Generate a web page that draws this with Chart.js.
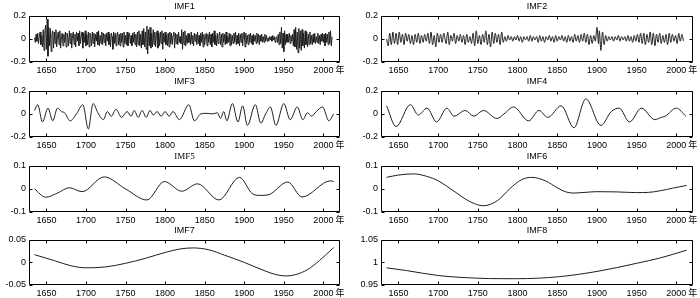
<!DOCTYPE html>
<html><head><meta charset="utf-8">
<script src="https://cdn.jsdelivr.net/npm/chart.js@4/dist/chart.umd.min.js"></script>
<style>
html,body{margin:0;padding:0;background:#fff;}
body{width:700px;height:298px;position:relative;overflow:hidden;}
canvas{position:absolute;}
</style></head>
<body>
<canvas id="c1" width="350" height="75" style="left:0;top:0"></canvas>
<canvas id="c2" width="350" height="75" style="left:350px;top:0"></canvas>
<canvas id="c3" width="350" height="75" style="left:0;top:75px"></canvas>
<canvas id="c4" width="350" height="75" style="left:350px;top:75px"></canvas>
<canvas id="c5" width="350" height="75" style="left:0;top:150px"></canvas>
<canvas id="c6" width="350" height="75" style="left:350px;top:150px"></canvas>
<canvas id="c7" width="350" height="74" style="left:0;top:224px"></canvas>
<canvas id="c8" width="350" height="74" style="left:350px;top:224px"></canvas>
<script>
// ---------- axis data ----------
const X_MIN = 1628, X_MAX = 2021;
const X_TICKS = [1650,1700,1750,1800,1850,1900,1950,2000];
const YEAR_UNIT = '年';
const TITLES = ['IMF1','IMF2','IMF3','IMF4','IMF5','IMF6','IMF7','IMF8'];
const Y_TICKS_02 = [-0.2, 0, 0.2];
const Y_TICKS_01 = [-0.1, 0, 0.1];
const Y_TICKS_005 = [-0.05, 0, 0.05];
const Y_TICKS_IMF8 = [0.95, 1, 1.05];

// ---------- IMF1 (annual values, starting year) ----------
const IMF1_START = 1635;
const imf1 = [
0.01,-0.03,0.04,-0.02,0.05,-0.04,0.02,0.06,-0.05,0.03,
-0.07,0.08,-0.10,0.05,0.12,-0.09,0.17,-0.15,0.10,-0.06,
0.09,-0.11,0.04,0.07,-0.08,0.06,-0.04,0.08,-0.07,0.03,
0.06,-0.05,0.07,-0.08,0.02,0.05,-0.06,0.04,-0.03,0.06,
-0.07,0.05,0.01,-0.06,0.07,-0.04,0.05,-0.08,0.03,0.06,
-0.05,0.04,-0.07,0.06,-0.02,0.05,-0.06,0.07,-0.04,0.02,
0.06,-0.08,0.05,-0.03,0.07,-0.06,0.04,-0.05,0.06,-0.07,
0.05,0.02,-0.06,0.06,-0.04,0.05,-0.07,0.04,-0.02,0.06,
-0.05,0.07,-0.06,0.03,-0.04,0.06,-0.05,0.05,-0.03,0.04,
-0.06,0.05,-0.02,0.06,-0.05,0.04,-0.07,0.05,0.02,-0.09,
0.06,-0.04,0.05,-0.06,0.03,0.06,-0.05,0.04,-0.06,0.05,
-0.03,0.05,-0.07,0.06,-0.04,0.03,-0.05,0.06,-0.06,0.04,
0.05,-0.04,0.03,-0.06,0.05,-0.03,0.06,-0.05,0.04,-0.07,
0.06,-0.05,0.07,-0.06,0.04,-0.08,0.07,-0.05,0.09,-0.07,
0.06,-0.09,0.11,-0.13,0.08,-0.06,0.10,-0.08,0.05,-0.07,
0.08,-0.05,0.06,-0.07,0.04,0.07,-0.08,0.05,-0.06,0.06,
-0.04,0.07,-0.09,0.05,-0.03,0.06,-0.05,0.04,-0.06,0.05,
-0.07,0.06,-0.04,0.05,-0.05,0.03,0.06,-0.08,0.05,-0.04,
0.04,-0.05,0.06,-0.03,0.02,-0.04,0.08,-0.09,0.06,-0.05,
0.07,-0.06,0.03,-0.04,0.05,-0.03,0.04,-0.05,0.06,-0.04,
0.03,-0.06,0.05,-0.02,0.04,-0.05,0.06,-0.04,0.03,-0.06,
0.05,-0.03,0.06,-0.07,0.04,-0.05,0.02,0.05,-0.06,0.04,
-0.03,0.06,-0.05,0.04,-0.07,0.05,-0.03,0.07,-0.05,0.03,
-0.06,0.05,-0.04,0.03,0.06,-0.05,0.04,-0.07,0.05,-0.03,
0.04,-0.05,0.06,-0.04,0.02,-0.03,0.05,-0.06,0.04,-0.05,
0.03,-0.04,0.05,-0.03,0.06,-0.05,0.03,-0.04,0.05,-0.06,
0.04,-0.03,0.05,-0.06,0.04,0.06,-0.07,0.05,-0.04,0.03,
-0.05,0.04,-0.03,0.05,-0.04,0.03,-0.05,0.04,-0.02,0.03,
-0.04,0.05,-0.03,0.04,-0.05,0.03,-0.02,0.04,-0.03,0.02,
-0.03,0.04,-0.02,0.03,-0.02,0.01,-0.02,0.02,-0.01,0.02,
-0.02,0.03,-0.01,0.02,-0.03,0.01,0.02,-0.03,0.04,-0.05,
0.06,-0.04,0.10,-0.08,0.05,-0.11,0.07,-0.05,0.04,-0.03,
0.04,-0.03,0.05,-0.04,0.03,-0.02,0.04,-0.06,0.08,-0.07,
0.10,-0.09,0.06,-0.12,0.09,-0.08,0.07,-0.10,0.08,-0.06,
0.05,-0.08,0.07,-0.05,0.06,-0.07,0.04,-0.05,0.06,-0.04,
0.03,-0.05,0.04,-0.03,0.05,-0.04,0.02,-0.03,0.05,-0.04,
0.03,-0.05,0.04,-0.02,0.05,-0.03,0.04,-0.06,0.05,-0.03,
0.04,-0.05,0.06,-0.04,0.07,-0.06,0.02
];

// ---------- IMF2 (turning points) ----------
const years2 = [1635,1637,1639,1641,1643,1645,1647,1649,1651,1653,1655,1657,1659,1661,1663,1665,1667,1669,1671,1673,1675,1677,1679,1681,1683,1685,1687,1689,1691,1693,1695,1697,1699,1701,1703,1705,1707,1710,1712,1714,1716,1718,1720,1722,1724,1726,1728,1730,1732,1734,1736,1738,1740,1742,1744,1746,1748,1750,1752,1754,1756,1758,1760,1762,1764,1766,1768,1770,1772,1774,1776,1778,1780,1782,1784,1786,1788,1790,1792,1794,1796,1798,1800,1802,1804,1806,1808,1810,1812,1814,1816,1818,1820,1822,1824,1826,1828,1830,1832,1834,1836,1838,1840,1842,1844,1846,1848,1850,1852,1854,1856,1858,1860,1862,1864,1866,1868,1870,1872,1874,1876,1878,1880,1882,1884,1886,1888,1890,1892,1894,1896,1898,1900,1902,1903,1905,1907,1909,1911,1913,1915,1917,1919,1921,1923,1925,1927,1929,1931,1933,1935,1937,1939,1941,1943,1945,1947,1949,1951,1953,1955,1957,1959,1961,1963,1965,1967,1969,1971,1973,1975,1977,1979,1981,1983,1985,1987,1989,1991,1993,1995,1997,1999,2001,2003,2005,2007,2009,2011];
const imf2 = [0.0,-0.06,0.05,-0.05,0.06,-0.04,0.05,-0.05,0.06,-0.03,0.04,-0.05,0.05,-0.02,0.04,-0.04,0.03,-0.05,0.04,-0.03,0.05,-0.04,0.03,-0.03,0.04,-0.02,0.05,-0.04,0.06,-0.05,0.03,-0.07,0.05,-0.03,0.04,-0.03,0.05,-0.04,0.06,-0.05,0.03,-0.02,0.05,-0.04,0.03,-0.02,0.04,-0.03,0.03,-0.05,0.04,-0.03,0.02,-0.04,0.05,-0.06,0.07,-0.04,0.03,-0.05,0.04,-0.03,0.07,-0.05,0.04,-0.07,0.06,-0.04,0.05,-0.03,0.04,-0.05,0.06,-0.03,0.02,-0.02,0.03,-0.01,0.02,-0.02,0.02,-0.01,0.03,-0.02,0.02,-0.03,0.02,-0.01,0.02,-0.02,0.03,-0.02,0.02,-0.01,0.02,-0.03,0.03,-0.02,0.02,-0.03,0.02,-0.01,0.03,-0.02,0.02,-0.03,0.03,-0.02,0.02,-0.01,0.03,-0.02,0.02,-0.03,0.03,-0.02,0.02,-0.03,0.04,-0.02,0.03,-0.03,0.04,-0.02,0.05,-0.03,0.04,-0.05,0.03,-0.04,0.03,-0.02,0.10,-0.04,0.07,-0.10,0.06,-0.05,0.03,-0.02,0.02,-0.01,0.02,-0.02,0.02,-0.01,0.03,-0.02,0.02,-0.01,0.02,-0.02,0.03,-0.02,0.02,-0.03,0.03,-0.02,0.04,-0.03,0.05,-0.04,0.05,-0.05,0.04,-0.03,0.06,-0.05,0.05,-0.06,0.04,-0.03,0.05,-0.04,0.03,-0.03,0.04,-0.05,0.05,-0.03,0.04,-0.02,0.03,-0.04,0.05,-0.02,0.04,-0.02];

// ---------- IMF3 ----------
const years3 = [1635,1639,1645,1652,1658,1664,1669,1673,1680,1688,1696,1703,1709,1715,1722,1727,1732,1738,1745,1752,1757,1761,1766,1771,1776,1781,1785,1790,1795,1800,1805,1810,1818,1830,1837,1845,1852,1860,1866,1870,1874,1878,1885,1892,1898,1904,1914,1921,1927,1933,1940,1950,1958,1967,1974,1980,1985,1991,1999,2007,2013];
const imf3 = [0.03,0.08,-0.07,0.05,-0.06,0.05,0.02,0.01,-0.06,0.0,0.08,-0.13,0.09,0.01,-0.05,0.02,-0.02,0.04,-0.03,0.02,-0.02,0.03,-0.03,0.03,-0.03,0.03,-0.01,0.02,-0.02,0.02,-0.02,0.02,-0.05,0.08,-0.06,0.0,0.005,0.0,0.01,-0.04,0.02,-0.06,0.09,-0.07,0.07,-0.10,0.08,-0.08,0.0,0.06,-0.10,0.09,-0.05,0.06,-0.05,0.01,-0.02,0.02,0.06,-0.06,0.0];

// ---------- IMF4 ----------
const years4 = [1635,1647,1665,1675,1686,1698,1711,1720,1734,1745,1757,1774,1783,1795,1814,1827,1838,1855,1871,1886,1905,1918,1928,1941,1956,1973,1981,1986,2000,2012];
const imf4 = [0.07,-0.11,0.08,-0.01,0.05,-0.07,0.05,-0.02,0.03,-0.02,0.03,-0.04,0.0,0.06,-0.06,0.03,-0.03,0.07,-0.12,0.13,-0.10,0.02,0.05,-0.07,0.05,-0.05,-0.03,-0.02,0.05,-0.02];

// ---------- IMF5 ----------
const years5 = [1635,1649,1664,1679,1695,1723,1750,1777,1799,1821,1841,1868,1894,1910,1920,1930,1955,1973,2009,2013];
const imf5 = [0.0,-0.036,-0.018,0.005,-0.012,0.052,0.0,-0.048,0.032,-0.01,0.022,-0.048,0.05,-0.02,-0.028,-0.026,0.03,-0.035,0.035,0.032];

// ---------- IMF6 ----------
const years6 = [1635,1650,1669,1685,1700,1720,1740,1757,1775,1790,1805,1818,1835,1850,1860,1870,1885,1900,1925,1950,1965,1980,1995,2013];
const imf6 = [0.05,0.06,0.065,0.055,0.035,-0.01,-0.055,-0.073,-0.05,0.0,0.04,0.05,0.035,0.005,-0.012,-0.018,-0.015,-0.012,-0.013,-0.016,-0.015,-0.008,0.003,0.015];

// ---------- IMF7 ----------
const years7 = [1635,1660,1680,1700,1725,1750,1775,1800,1820,1835,1855,1875,1900,1925,1940,1953,1965,1980,1995,2013];
const imf7 = [0.017,0.004,-0.007,-0.012,-0.01,-0.002,0.009,0.022,0.030,0.032,0.028,0.016,0.0,-0.018,-0.027,-0.03,-0.027,-0.016,0.004,0.033];

// ---------- IMF8 ----------
const years8 = [1635,1660,1700,1750,1780,1800,1850,1900,1950,1980,2013];
const imf8 = [0.988,0.982,0.971,0.965,0.964,0.964,0.968,0.980,0.998,1.010,1.027];

// ---------- drawing ----------
const FONT = '"Liberation Sans", Arial, sans-serif';
const imf1Years = imf1.map((v, i) => IMF1_START + i);

const framePlugin = {
  id: 'frame',
  afterDraw(chart) {
    const {ctx, chartArea: a, scales: {x, y}} = chart;
    ctx.save();
    ctx.strokeStyle = '#000';
    ctx.lineWidth = 1;
    const L = Math.round(a.left) + 0.5, R = Math.round(a.right) - 0.5;
    const T = Math.round(a.top) + 0.5, B = Math.round(a.bottom) - 0.5;
    ctx.beginPath();
    ctx.rect(L, T, R - L, B - T);
    x.ticks.forEach(t => {
      const px = Math.round(x.getPixelForValue(t.value)) + 0.5;
      ctx.moveTo(px, B); ctx.lineTo(px, B - 3);
      ctx.moveTo(px, T); ctx.lineTo(px, T + 3);
    });
    y.ticks.forEach(t => {
      const py = Math.round(y.getPixelForValue(t.value)) + 0.5;
      ctx.moveTo(L, py); ctx.lineTo(L + 3, py);
      ctx.moveTo(R, py); ctx.lineTo(R - 3, py);
    });
    ctx.stroke();
    // year unit after last tick label
    ctx.font = '9px ' + FONT;
    const last = X_TICKS[X_TICKS.length - 1];
    const lw = ctx.measureText(String(last)).width;
    ctx.font = '9px "Noto Sans CJK SC", sans-serif';
    ctx.fillStyle = '#000';
    ctx.textAlign = 'left';
    ctx.textBaseline = 'middle';
    ctx.fillText(YEAR_UNIT, x.getPixelForValue(last) + lw / 2 + 2, a.bottom + 8);
    ctx.restore();
  }
};

function panel(id, title, years, values, yMin, yMax, yTicks, side, smooth, titleFamily) {
  const pts = years.map((xv, i) => ({x: xv, y: values[i]}));
  return new Chart(document.getElementById(id), {
    type: 'line',
    data: {datasets: [{
      data: pts, borderColor: '#1e1e1e', borderWidth: 1, pointRadius: 0,
      tension: smooth ? 0.4 : 0, cubicInterpolationMode: smooth ? 'monotone' : 'default', fill: false
    }]},
    options: {
      responsive: false, animation: false, events: [],
      layout: {padding: {left: 0, right: side === 'L' ? 10 : 7, top: 0, bottom: 0}},
      plugins: {
        legend: {display: false}, tooltip: {enabled: false},
        title: {display: true, text: title, fullSize: false, color: '#000',
          font: {family: titleFamily || FONT, size: 9, weight: 'normal'},
          padding: {top: 1, bottom: 4}}
      },
      scales: {
        x: {
          type: 'linear', min: X_MIN, max: X_MAX,
          grid: {display: false, drawTicks: false}, border: {display: false},
          ticks: {color: '#000', font: {family: FONT, size: 9}, padding: 3, maxRotation: 0, autoSkip: false,
            callback: v => String(v)},
          afterBuildTicks: s => { s.ticks = X_TICKS.map(v => ({value: v})); },
          afterFit: s => { s.height = 13; }
        },
        y: {
          type: 'linear', min: yMin, max: yMax,
          grid: {display: false, drawTicks: false}, border: {display: false},
          ticks: {color: '#000', font: {family: FONT, size: 9}, padding: 3, callback: v => String(v)},
          afterBuildTicks: s => { s.ticks = yTicks.map(v => ({value: v})); },
          afterFit: s => { s.width = side === 'L' ? 29 : 31; }
        }
      }
    },
    plugins: [framePlugin]
  });
}

panel('c1', TITLES[0], imf1Years, imf1, -0.2, 0.2, Y_TICKS_02, 'L', false);
panel('c2', TITLES[1], years2, imf2, -0.2, 0.2, Y_TICKS_02, 'R', true);
panel('c3', TITLES[2], years3, imf3, -0.2, 0.2, Y_TICKS_02, 'L', true);
panel('c4', TITLES[3], years4, imf4, -0.2, 0.2, Y_TICKS_02, 'R', true);
panel('c5', TITLES[4], years5, imf5, -0.1, 0.1, Y_TICKS_01, 'L', true, '"Liberation Serif", "Times New Roman", serif');
panel('c6', TITLES[5], years6, imf6, -0.1, 0.1, Y_TICKS_01, 'R', true);
panel('c7', TITLES[6], years7, imf7, -0.05, 0.05, Y_TICKS_005, 'L', true);
panel('c8', TITLES[7], years8, imf8, 0.95, 1.05, Y_TICKS_IMF8, 'R', true);
</script>
</body></html>
